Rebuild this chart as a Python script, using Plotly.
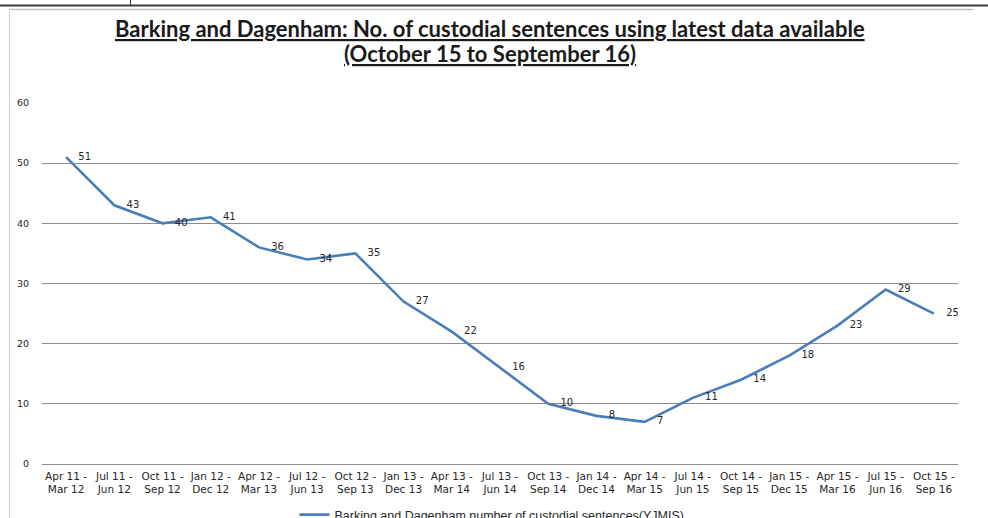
import plotly.graph_objects as go

# Rolling 12-month periods and custodial sentence counts
periods = [
    "Apr 11 -<br>Mar 12", "Jul 11 -<br>Jun 12", "Oct 11 -<br>Sep 12", "Jan 12 -<br>Dec 12",
    "Apr 12 -<br>Mar 13", "Jul 12 -<br>Jun 13", "Oct 12 -<br>Sep 13", "Jan 13 -<br>Dec 13",
    "Apr 13 -<br>Mar 14", "Jul 13 -<br>Jun 14", "Oct 13 -<br>Sep 14", "Jan 14 -<br>Dec 14",
    "Apr 14 -<br>Mar 15", "Jul 14 -<br>Jun 15", "Oct 14 -<br>Sep 15", "Jan 15 -<br>Dec 15",
    "Apr 15 -<br>Mar 16", "Jul 15 -<br>Jun 16", "Oct 15 -<br>Sep 16",
]
sentences = [51, 43, 40, 41, 36, 34, 35, 27, 22, 16, 10, 8, 7, 11, 14, 18, 23, 29, 25]
y_ticks = [0, 10, 20, 30, 40, 50, 60]

series_name = "Barking and Dagenham number of custodial sentences(YJMIS)"
title_lines = [
    "Barking and Dagenham: No. of custodial sentences using latest data available",
    "(October 15 to September 16)",
]

W, H = 988, 518
L, R, T, B = 42, 958, 103, 464  # plot area in pixels


def px_x(px):
    return (px - L) / (R - L)


def px_y(py):
    return (B - py) / (B - T)


fig = go.Figure()

fig.add_trace(go.Scatter(
    x=list(range(len(periods))), y=sentences, mode="lines", name=series_name,
    line=dict(color="#4a7ebb", width=2.6), hoverinfo="skip",
))

# Value labels, offset to the right of each point
fig.add_trace(go.Scatter(
    x=list(range(len(periods))), y=sentences, mode="markers+text",
    text=[str(v) for v in sentences], textposition="middle right",
    textfont=dict(family="DejaVu Sans", size=10, color="#262626"),
    marker=dict(size=18, color="rgba(0,0,0,0)"), showlegend=False, hoverinfo="skip",
))

shapes = [
    # outer frame lines
    dict(type="line", xref="paper", yref="paper", x0=px_x(0), x1=px_x(W), y0=px_y(5.5), y1=px_y(5.5),
         line=dict(color="#3a3a3a", width=2)),
    dict(type="line", xref="paper", yref="paper", x0=px_x(130.5), x1=px_x(130.5), y0=px_y(0), y1=px_y(5),
         line=dict(color="#3a3a3a", width=1)),
    dict(type="line", xref="paper", yref="paper", x0=px_x(9), x1=px_x(973), y0=px_y(9.5), y1=px_y(9.5),
         line=dict(color="#c0c0c0", width=1.5)),
    dict(type="line", xref="paper", yref="paper", x0=px_x(9.5), x1=px_x(9.5), y0=px_y(9), y1=px_y(H),
         line=dict(color="#d0d0d0", width=1)),
]

# Two-line underlined heading
title_font = dict(family="Lato", size=22, color="#1a1a1a", weight="bold", lineposition="under")
annotations = [
    dict(text=title_lines[0], xref="paper", yref="paper", x=px_x(490), y=px_y(29),
         xanchor="center", yanchor="middle", showarrow=False, font=title_font),
    dict(text=title_lines[1], xref="paper", yref="paper", x=px_x(490), y=px_y(54),
         xanchor="center", yanchor="middle", showarrow=False, font=title_font),
]

fig.update_layout(
    width=W, height=H,
    margin=dict(l=L, r=W - R, t=T, b=H - B, autoexpand=False),
    paper_bgcolor="white", plot_bgcolor="white",
    xaxis=dict(
        range=[-0.5, len(periods) - 0.5], tickmode="array",
        tickvals=list(range(len(periods))), ticktext=periods,
        showgrid=False, zeroline=False, showline=False, ticks="",
        tickfont=dict(family="DejaVu Sans", size=10.5, color="#262626"),
        ticklabelstandoff=4,
    ),
    yaxis=dict(
        range=[0, 60], tickmode="array", tickvals=y_ticks,
        showgrid=True, gridcolor="#8c8c8c", gridwidth=1,
        zeroline=True, zerolinecolor="#8c8c8c", zerolinewidth=1,
        showline=False, ticks="",
        tickfont=dict(family="DejaVu Sans", size=9.5, color="#262626"),
        ticklabelstandoff=12,
    ),
    legend=dict(
        orientation="h", x=px_x(492), xanchor="center", y=px_y(500), yanchor="top",
        font=dict(family="Liberation Sans", size=12.5, color="#262626"),
        bgcolor="rgba(0,0,0,0)",
    ),
    shapes=shapes,
    annotations=annotations,
    showlegend=True,
)

fig.write_html("out.html")
